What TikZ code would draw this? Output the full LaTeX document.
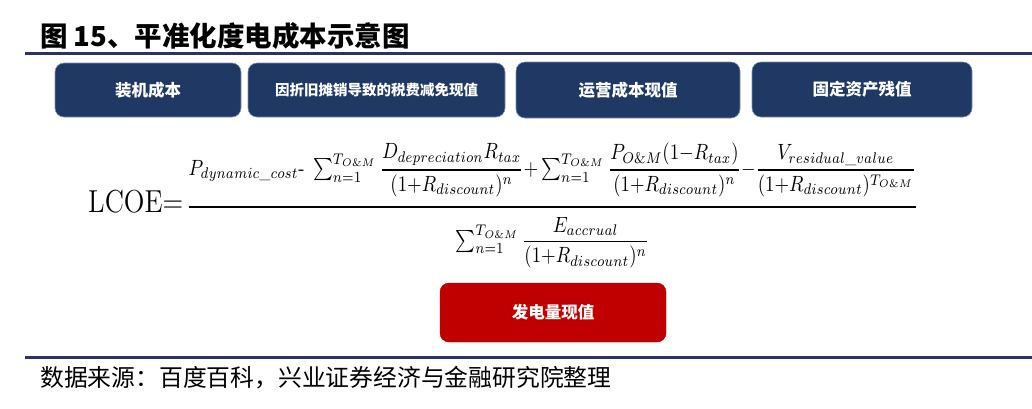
\documentclass[tikz,border=0pt]{standalone}
\usepackage{fontspec}
\usepackage{amsmath}
\usepackage{graphicx}
\newfontfamily\cjk{Noto Sans CJK SC}
\definecolor{navy}{HTML}{203864}
\definecolor{navyedge}{HTML}{7F8FAF}
\definecolor{darkred}{HTML}{C00000}
\definecolor{rulecol}{HTML}{2E3163}
\tikzset{
  bluebox/.style={fill=navy, draw=navyedge, line width=0.6pt, rounded corners=9pt, inner sep=0pt,
    text=white, font=\cjk\bfseries\fontsize{16.5}{18}\selectfont},
  redbox/.style={fill=darkred, draw=darkred!80!black, line width=0.4pt, rounded corners=9pt, inner sep=0pt,
    text=white, font=\cjk\bfseries\fontsize{16.5}{18}\selectfont},
  hrule/.style={draw=rulecol, line width=3pt},
}
\begin{document}
\begin{tikzpicture}[x=1pt,y=-1pt]
\useasboundingbox (0,0) rectangle (1032,408);
% title
\node[anchor=west, inner sep=0pt, font=\cjk\bfseries\fontsize{27.5}{30}\selectfont] (title) at (40,36) {图 15、平准化度电成本示意图};
\coordinate (r1a) at (25,53);
\coordinate (r1b) at (1032,53);
\draw[hrule] (r1a) -- (r1b);
% boxes
\node[bluebox, minimum width=186pt, minimum height=54pt] (b1) at (148,90) {装机成本};
\node[bluebox, minimum width=257pt, minimum height=54pt, font=\cjk\bfseries\fontsize{14.5}{16}\selectfont] (b2) at (376.5,90) {因折旧摊销导致的税费减免现值};
\node[bluebox, minimum width=224pt, minimum height=56pt] (b3) at (628,90) {运营成本现值};
\node[bluebox, minimum width=220pt, minimum height=55pt] (b4) at (862,89.5) {固定资产残值};
% formula
\node[anchor=north west, inner sep=0pt] (f) at (88,143) {\resizebox*{830pt}{125pt}{$\mbox{\Large LCOE=}\,\genfrac{}{}{1.3pt}{0}{P_{dynamic\_cost}\text{-}\;\sum_{n=1}^{T_{O\&M}}\genfrac{}{}{0.6pt}{0}{D_{depreciation}R_{tax}}{(1{+}R_{discount})^{n}}{+}\sum_{n=1}^{T_{O\&M}}\genfrac{}{}{0.6pt}{0}{P_{O\&M}(1{-}R_{tax})}{(1{+}R_{discount})^{n}}{-}\genfrac{}{}{0.6pt}{0}{V_{residual\_value}}{(1{+}R_{discount})^{T_{O\&M}}}}{\sum_{n=1}^{T_{O\&M}}\genfrac{}{}{0.6pt}{0}{E_{accrual}}{(1{+}R_{discount})^{n}}}$}};
% red box
\node[redbox, minimum width=226pt, minimum height=59pt] (red) at (553,312.5) {发电量现值};
% bottom rule and source
\coordinate (r2a) at (25,357);
\coordinate (r2b) at (1032,357);
\draw[hrule] (r2a) -- (r2b);
\node[anchor=west, inner sep=0pt, font=\cjk\fontsize{23.8}{26}\selectfont] (src) at (40,378) {数据来源：百度百科，兴业证券经济与金融研究院整理};
\end{tikzpicture}
\end{document}
